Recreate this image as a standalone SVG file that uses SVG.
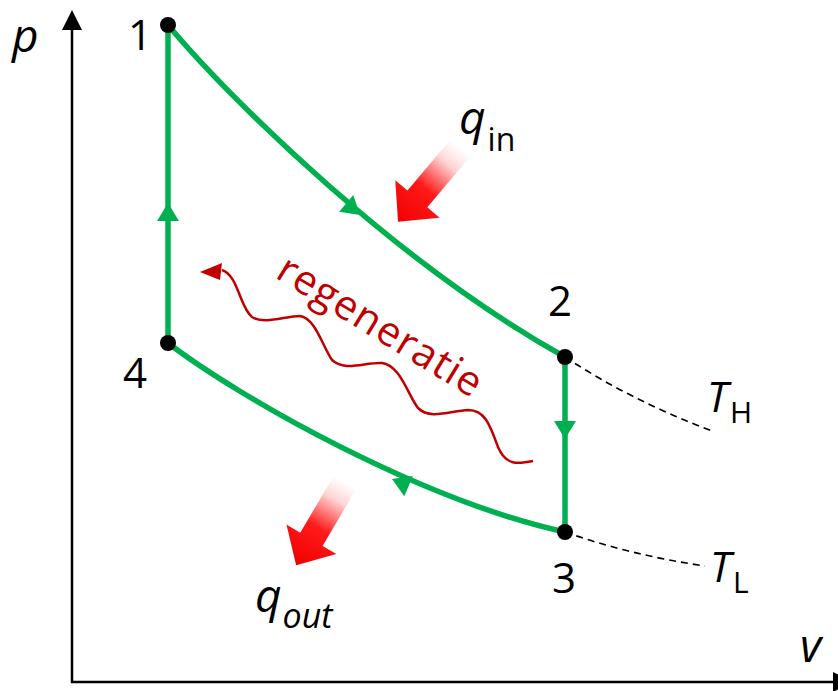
<svg xmlns="http://www.w3.org/2000/svg" width="838" height="691" viewBox="0 0 838 691">
<style>
.cyc{fill:none;stroke:#00B050;stroke-width:5.5;stroke-linecap:round}
.ax{stroke:#000;stroke-width:2.5;fill:none}
.dash{fill:none;stroke:#000;stroke-width:1.6;stroke-dasharray:7 5}
.lbl{font-family:"Open Sans","Liberation Sans",sans-serif;fill:#000}
.it{font-style:italic}
.red{fill:#C00000}
</style>
<defs>
<linearGradient id="heat" x1="0" y1="0" x2="1" y2="0">
<stop offset="0" stop-color="#ffffff"/>
<stop offset="0.2" stop-color="#ffd6d6"/>
<stop offset="0.55" stop-color="#ff1a1a"/>
<stop offset="1" stop-color="#f00000"/>
</linearGradient>
<path id="fat" d="M0,-13 L66,-13 L66,-29 L96,0 L66,29 L66,13 L0,13 Z"/>
<polygon id="gtri" points="0,0 -18,-11 -18,11" fill="#00B050"/>
</defs>

<g id="axes">
<line class="ax" x1="72" y1="683" x2="72" y2="26"/>
<polygon points="72,10 62,30 82,30" fill="#000"/>
<line class="ax" x1="71" y1="682" x2="836" y2="682"/>
<polygon points="833,672 853,682 833,692" fill="#000"/>
<text class="lbl it" x="12" y="52" font-size="46">p</text>
<text class="lbl it" x="800" y="662" font-size="46">v</text>
</g>

<g id="connectors">
<path id="e12" class="cyc" d="M168,25 C235,105 400,265 565,357"/>
<path id="e23" class="cyc" d="M565,357 L565,532"/>
<path id="e34" class="cyc" d="M565,532 C420,500 240,398 168,343"/>
<path id="e41" class="cyc" d="M168,343 L168,25"/>
<use href="#gtri" transform="translate(168,203) rotate(-90)"/>
<use href="#gtri" transform="translate(360,215) rotate(40)"/>
<use href="#gtri" transform="translate(565,439) rotate(90)"/>
<use href="#gtri" transform="translate(392,479) rotate(203)"/>
<path id="isoH" class="dash" d="M565,357 Q630,400 712,431"/>
<path id="isoL" class="dash" d="M565,532 Q630,555 705,566"/>
</g>

<g id="node1"><circle cx="168" cy="25" r="8"/><text class="lbl" x="140" y="50" font-size="42" text-anchor="middle">1</text></g>
<g id="node2"><circle cx="565" cy="357" r="8"/><text class="lbl" x="560" y="316" font-size="42" text-anchor="middle">2</text></g>
<g id="node3"><circle cx="565" cy="532" r="8"/><text class="lbl" x="564" y="593" font-size="42" text-anchor="middle">3</text></g>
<g id="node4"><circle cx="168" cy="343" r="8"/><text class="lbl" x="135" y="388" font-size="42" text-anchor="middle">4</text></g>

<g id="TH"><text class="lbl" x="707" y="412"><tspan class="it" font-size="42">T</tspan><tspan font-size="30" dx="2" dy="11">H</tspan></text></g>
<g id="TL"><text class="lbl" x="710" y="582"><tspan class="it" font-size="42">T</tspan><tspan font-size="30" dx="2" dy="11">L</tspan></text></g>

<g id="qin">
<use href="#fat" fill="url(#heat)" transform="translate(460,148.5) rotate(130.2)"/>
<text class="lbl" x="459" y="134"><tspan class="it" font-size="46">q</tspan><tspan font-size="32" dx="2" dy="17">in</tspan></text>
</g>

<g id="qout">
<use href="#fat" fill="url(#heat)" transform="translate(345,482.5) rotate(120.6)"/>
<text class="lbl it" x="255" y="612"><tspan font-size="46">q</tspan><tspan font-size="34" dx="1" dy="16">out</tspan></text>
</g>

<g id="regeneratie">
<path d="M533,461 C518,464 506,466 498,447 C490,425 485,410 468,410 C450,411 430,420 418,408 C408,395 400,365 382,363 C365,362 345,372 332,360 C322,345 315,318 300,316 C285,316 265,325 252,317 C240,308 238,275 222,270" fill="none" stroke="#C00000" stroke-width="2.5"/>
<polygon points="200,272 222,263 220,280" class="red"/>
<text class="lbl red" transform="translate(274,277) rotate(31.5)" font-size="41" textLength="232">regeneratie</text>
</g>
</svg>
